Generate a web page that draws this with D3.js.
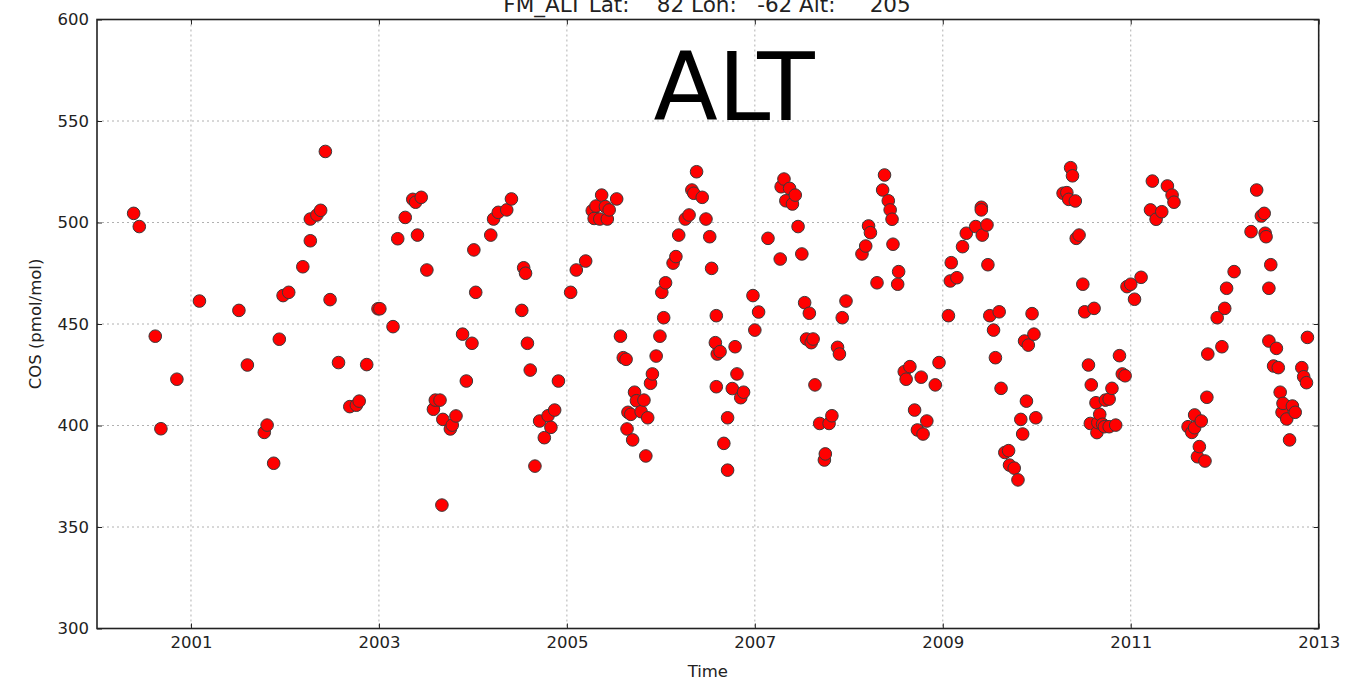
<!DOCTYPE html>
<html>
  <head>
    <meta charset="UTF-8">
    <title>ALT COS</title>
    <script src="https://d3js.org/d3.v7.min.js"></script>
    <style>
      body { margin: 0; background: #fff; }
      text { font-family: "DejaVu Sans", sans-serif; }
    </style>
  </head>
  <body>
    <div id="chart"></div>
    <script>
      // decimal year of each flask sample
      const years = [
        2000.39, 2000.45, 2000.62, 2000.68, 2000.85, 2001.09, 2001.51, 2001.60, 2001.78, 2001.81,
        2001.88, 2001.94, 2001.98, 2002.04, 2002.19, 2002.27, 2002.27, 2002.34, 2002.38, 2002.43,
        2002.48, 2002.57, 2002.69, 2002.76, 2002.79, 2002.87, 2002.99, 2003.01, 2003.15, 2003.20,
        2003.28, 2003.36, 2003.39, 2003.41, 2003.45, 2003.51, 2003.58, 2003.60, 2003.65, 2003.67,
        2003.68, 2003.76, 2003.78, 2003.82, 2003.89, 2003.93, 2003.99, 2004.01, 2004.03, 2004.19,
        2004.22, 2004.27, 2004.36, 2004.41, 2004.52, 2004.54, 2004.56, 2004.58, 2004.61, 2004.66,
        2004.71, 2004.76, 2004.80, 2004.83, 2004.87, 2004.91, 2005.04, 2005.10, 2005.20, 2005.27,
        2005.29, 2005.31, 2005.35, 2005.37, 2005.41, 2005.43, 2005.45, 2005.53, 2005.57, 2005.60,
        2005.63, 2005.64, 2005.65, 2005.68, 2005.70, 2005.72, 2005.74, 2005.79, 2005.82, 2005.84,
        2005.86, 2005.89, 2005.91, 2005.95, 2005.99, 2006.01, 2006.03, 2006.05, 2006.13, 2006.16,
        2006.19, 2006.26, 2006.30, 2006.33, 2006.35, 2006.38, 2006.44, 2006.48, 2006.52, 2006.54,
        2006.58, 2006.59, 2006.59, 2006.60, 2006.63, 2006.67, 2006.71, 2006.71, 2006.76, 2006.79,
        2006.81, 2006.85, 2006.88, 2006.98, 2007.00, 2007.04, 2007.14, 2007.27, 2007.28, 2007.31,
        2007.33, 2007.37, 2007.40, 2007.43, 2007.46, 2007.50, 2007.53, 2007.55, 2007.58, 2007.60,
        2007.62, 2007.64, 2007.69, 2007.74, 2007.75, 2007.79, 2007.82, 2007.88, 2007.90, 2007.93,
        2007.97, 2008.14, 2008.18, 2008.21, 2008.23, 2008.30, 2008.36, 2008.38, 2008.42, 2008.44,
        2008.46, 2008.47, 2008.52, 2008.53, 2008.59, 2008.61, 2008.65, 2008.70, 2008.73, 2008.77,
        2008.79, 2008.83, 2008.92, 2008.96, 2009.06, 2009.08, 2009.09, 2009.15, 2009.21, 2009.25,
        2009.35, 2009.41, 2009.41, 2009.42, 2009.47, 2009.48, 2009.50, 2009.54, 2009.56, 2009.60,
        2009.62, 2009.66, 2009.70, 2009.71, 2009.76, 2009.80, 2009.83, 2009.85, 2009.87, 2009.89,
        2009.91, 2009.95, 2009.97, 2009.99, 2010.28, 2010.32, 2010.34, 2010.36, 2010.38, 2010.41,
        2010.42, 2010.45, 2010.49, 2010.51, 2010.55, 2010.57, 2010.58, 2010.61, 2010.63, 2010.64,
        2010.65, 2010.67, 2010.70, 2010.72, 2010.73, 2010.77, 2010.77, 2010.80, 2010.84, 2010.88,
        2010.91, 2010.94, 2010.96, 2011.00, 2011.04, 2011.11, 2011.21, 2011.23, 2011.27, 2011.33,
        2011.39, 2011.44, 2011.46, 2011.61, 2011.65, 2011.68, 2011.68, 2011.71, 2011.73, 2011.75,
        2011.79, 2011.81, 2011.82, 2011.92, 2011.97, 2012.00, 2012.02, 2012.10, 2012.28, 2012.34,
        2012.39, 2012.42, 2012.43, 2012.44, 2012.47, 2012.47, 2012.49, 2012.52, 2012.55, 2012.57,
        2012.59, 2012.61, 2012.62, 2012.66, 2012.69, 2012.72, 2012.75, 2012.82, 2012.84, 2012.87,
        2012.88
      ];

      // COS mole fraction (pmol/mol), same order as years
      const cos = [
        504.5, 498.0, 444.0, 398.4, 422.8, 461.3, 456.7, 429.8, 396.6, 400.2,
        381.4, 442.5, 464.0, 465.6, 478.2, 491.0, 501.7, 503.7, 506.0, 535.0,
        462.0, 431.0, 409.3, 410.0, 412.0, 430.0, 457.5, 457.5, 448.7, 492.0,
        502.5, 511.4, 510.0, 493.8, 512.4, 476.6, 408.0, 412.5, 412.5, 360.8,
        403.0, 398.3, 400.2, 404.7, 445.0, 421.9, 440.5, 486.5, 465.6, 493.8,
        501.7, 505.0, 506.2, 511.6, 456.7, 477.7, 475.0, 440.5, 427.3, 380.0,
        402.2, 394.0, 404.8, 399.1, 407.6, 421.9, 465.6, 476.6, 481.0, 505.8,
        502.0, 508.1, 501.7, 513.5, 507.8, 501.7, 506.2, 511.6, 444.0, 433.4,
        432.6, 398.3, 406.5, 405.5, 392.9, 416.4, 412.2, 406.8, 412.5, 385.0,
        403.8, 420.8, 425.4, 434.2, 444.0, 465.6, 453.1, 470.3, 480.0, 483.2,
        493.8, 501.7, 503.7, 516.0, 514.4, 525.0, 512.4, 501.7, 493.0, 477.4,
        440.8, 454.1, 419.1, 435.2, 436.4, 391.2, 403.8, 378.0, 418.2, 438.8,
        425.4, 413.7, 416.4, 464.0, 447.0, 455.9, 492.2, 482.0, 517.6, 521.4,
        510.7, 516.8, 509.1, 513.5, 498.0, 484.5, 460.5, 442.6, 455.3, 440.8,
        442.6, 420.0, 401.0, 383.0, 386.0, 401.0, 404.8, 438.5, 435.2, 453.1,
        461.3, 484.5, 488.4, 498.3, 495.0, 470.3, 516.0, 523.4, 510.7, 506.2,
        501.6, 489.3, 469.6, 475.8, 426.5, 422.8, 429.0, 407.6, 397.8, 423.8,
        395.8, 402.2, 420.0, 431.0, 454.1, 471.2, 480.2, 472.8, 488.1, 494.7,
        498.0, 507.5, 506.2, 493.8, 498.8, 479.2, 454.1, 447.0, 433.4, 456.0,
        418.3, 386.7, 387.6, 380.5, 379.0, 373.2, 403.0, 395.8, 441.6, 412.0,
        439.6, 455.1, 445.0, 403.8, 514.4, 514.7, 511.4, 527.0, 523.0, 510.6,
        492.2, 493.8, 469.6, 456.0, 429.8, 401.0, 420.0, 457.7, 411.2, 396.5,
        401.4, 405.5, 400.6, 399.4, 412.5, 413.0, 399.4, 418.3, 400.2, 434.4,
        425.4, 424.5, 468.4, 469.6, 462.2, 473.0, 506.2, 520.4, 501.6, 505.3,
        518.0, 513.5, 510.0, 399.4, 396.6, 405.2, 398.9, 384.6, 389.6, 402.2,
        382.5, 413.9, 435.2, 453.1, 438.8, 457.7, 467.6, 475.8, 495.5, 516.0,
        503.2, 504.5, 494.7, 493.0, 467.6, 441.6, 479.2, 429.3, 438.0, 428.5,
        416.4, 406.5, 410.9, 403.2, 392.9, 409.6, 406.5, 428.5, 424.0, 421.1,
        443.4
      ];

      const xTicks = [2001, 2003, 2005, 2007, 2009, 2011, 2013];
      const yTicks = [300, 350, 400, 450, 500, 550, 600];
      const xDomain = [2000, 2013];
      const yDomain = [300, 600];

      const data = years.map((t, i) => ({ t: t, v: cos[i] }));

      const margin = { top: 19.5, right: 26.3, bottom: 56.5, left: 97 };
      const fullW = 1345, fullH = 685;
      const width = fullW - margin.left - margin.right;
      const height = fullH - margin.top - margin.bottom;

      const root = d3.select("#chart").append("svg")
        .attr("width", fullW)
        .attr("height", fullH);

      const svg = root.append("g")
        .attr("transform", `translate(${margin.left},${margin.top})`);

      const x = d3.scaleLinear().domain(xDomain).range([0, width]);
      const y = d3.scaleLinear().domain(yDomain).range([height, 0]);

      // dotted grid
      svg.append("g").selectAll("line")
        .data(xTicks)
        .join("line")
        .attr("x1", d => x(d)).attr("x2", d => x(d))
        .attr("y1", 0).attr("y2", height)
        .attr("stroke", "#b0b0b0")
        .attr("stroke-dasharray", "2,3");

      svg.append("g").selectAll("line")
        .data(yTicks)
        .join("line")
        .attr("x1", 0).attr("x2", width)
        .attr("y1", d => y(d)).attr("y2", d => y(d))
        .attr("stroke", "#b0b0b0")
        .attr("stroke-dasharray", "2,3");

      // points
      svg.append("g").selectAll("circle")
        .data(data)
        .join("circle")
        .attr("cx", d => x(d.t))
        .attr("cy", d => y(d.v))
        .attr("r", 6.3)
        .attr("fill", "#ff0000")
        .attr("stroke", "#3a3a3a")
        .attr("stroke-width", 1);

      // axes, ticks point inward
      const styleAxis = g => {
        g.select(".domain").remove();
        g.selectAll(".tick line").attr("stroke", "#222");
        g.selectAll(".tick text")
          .style("font-family", "DejaVu Sans, sans-serif")
          .style("font-size", "16.5px")
          .style("fill", "#222");
      };

      svg.append("g")
        .attr("transform", `translate(0,${height})`)
        .call(d3.axisBottom(x).tickValues(xTicks).tickFormat(d3.format("d"))
          .tickSizeInner(-5).tickSizeOuter(0).tickPadding(8))
        .call(styleAxis);

      svg.append("g")
        .call(d3.axisTop(x).tickValues(xTicks).tickFormat("")
          .tickSizeInner(-5).tickSizeOuter(0))
        .call(styleAxis);

      svg.append("g")
        .call(d3.axisLeft(y).tickValues(yTicks)
          .tickSizeInner(-5).tickSizeOuter(0).tickPadding(8))
        .call(styleAxis);

      svg.append("g")
        .attr("transform", `translate(${width},0)`)
        .call(d3.axisRight(y).tickValues(yTicks).tickFormat("")
          .tickSizeInner(-5).tickSizeOuter(0))
        .call(styleAxis);

      // frame
      svg.append("rect")
        .attr("width", width)
        .attr("height", height)
        .attr("fill", "none")
        .attr("stroke", "#222")
        .attr("stroke-width", 1.6);

      // labels
      svg.append("text")
        .attr("x", width / 2)
        .attr("y", height + 48)
        .attr("text-anchor", "middle")
        .style("font-size", "16.5px")
        .style("fill", "#222")
        .text("Time");

      svg.append("text")
        .attr("transform", "rotate(-90)")
        .attr("x", -height / 2)
        .attr("y", -margin.left + 41)
        .attr("text-anchor", "middle")
        .style("font-size", "16.5px")
        .style("fill", "#222")
        .text("COS (pmol/mol)");

      // site header, partly cut at the top edge
      root.append("text")
        .attr("x", 707)
        .attr("y", 11.7)
        .attr("text-anchor", "middle")
        .style("font-size", "21.5px")
        .style("fill", "#222")
        .style("white-space", "pre")
        .text("FM_ALT Lat:    82 Lon:   -62 Alt:     205");

      svg.append("text")
        .attr("x", x(2006.78))
        .attr("y", 100.7)
        .attr("text-anchor", "middle")
        .style("font-size", "94px")
        .style("fill", "#000")
        .text("ALT");
    </script>
  </body>
</html>
